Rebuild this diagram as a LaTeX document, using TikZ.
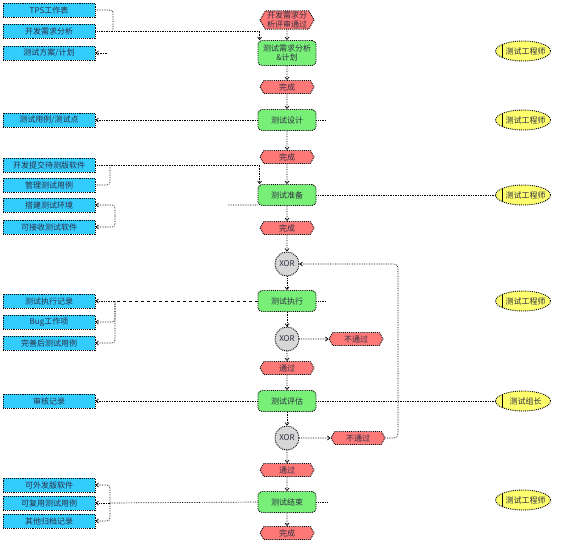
\documentclass[tikz,border=0pt]{standalone}
\usepackage{fontspec}
\setmainfont{Noto Sans CJK SC}
\usepackage{tikz}
\usetikzlibrary{positioning,shapes.symbols,shapes.geometric,arrows.meta}

\definecolor{docblue}{RGB}{51,204,255}
\definecolor{fngreen}{RGB}{120,240,120}
\definecolor{evred}{RGB}{255,120,120}
\definecolor{xorgray}{RGB}{215,215,215}
\definecolor{orgyellow}{RGB}{255,255,110}
\definecolor{inkgray}{RGB}{45,45,65}

\begin{document}
\begin{tikzpicture}[x=1pt,y=-1pt,on grid,
  font=\fontsize{8}{9}\selectfont,
  every node/.style={text=inkgray},
  doc/.style={draw,densely dotted,line width=0.9pt,fill=docblue,
    minimum width=92pt,minimum height=14pt,inner sep=0pt},
  fn/.style={draw,densely dotted,line width=0.9pt,fill=fngreen,rounded corners=4pt,
    minimum width=58pt,minimum height=21pt,inner sep=1pt,align=center},
  ev/.style={signal,signal to=west and east,signal pointer angle=120,draw,densely dotted,
    line width=0.9pt,fill=evred,minimum width=54pt,minimum height=13pt,inner sep=1pt,align=center},
  xor/.style={circle,draw,densely dotted,line width=0.9pt,fill=xorgray,minimum size=24pt,inner sep=0pt},
  org/.style={ellipse,draw,densely dotted,line width=0.9pt,fill=orgyellow,
    minimum width=55pt,minimum height=20pt,inner xsep=-6pt,inner ysep=0pt,
    path picture={\draw[solid,line width=1pt]
      ([xshift=7pt]path picture bounding box.north west) --
      ([xshift=7pt]path picture bounding box.south west);}},
  wire/.style={densely dotted,line width=0.7pt},
  link/.style={wire,-{Straight Barb[length=2.5pt,width=4pt]}}]
\useasboundingbox (0,0) rectangle (567,544);

% process chain
\node[ev] (ev0) at (287,20) {开发需求分\\析评审通过};
\node[fn,minimum height=25pt] (f1) [below=33pt of ev0] {测试需求分析\\\&计划};
\node[ev] (ev1) [below=34pt of f1] {完成};
\node[fn] (f2) [below=33pt of ev1] {测试设计};
\node[ev] (ev2) [below=37pt of f2] {完成};
\node[fn] (f3) [below=38pt of ev2] {测试准备};
\node[ev] (ev3) [below=33pt of f3] {完成};
\node[xor] (xor1) [below=36pt of ev3] {XOR};
\node[fn] (f4) [below=37pt of xor1] {测试执行};
\node[xor] (xor2) [below=38pt of f4] {XOR};
\node[ev] (fail1) [right=69pt of xor2] {不通过};
\node[ev] (pass1) [below=29pt of xor2] {通过};
\node[fn] (f5) [below=33pt of pass1] {测试评估};
\node[xor] (xor3) [below=37pt of f5] {XOR};
\node[ev] (fail2) [right=71pt of xor3] {不通过};
\node[ev] (pass2) [below=32pt of xor3] {通过};
\node[fn] (f6) [below=32pt of pass2] {测试结束};
\node[ev] (ev4) [below=31pt of f6] {完成};

% documents
\node[doc] (tps) at (49,10) {TPS工作表};
\node[doc] (req) at (49,31) {开发需求分析};
\node[doc] (plan) at (49,53) {测试方案/计划};
\node[doc] (case) at (49,120) {测试用例/测试点};
\node[doc] (sub) at (49,165) {开发提交待测版软件};
\node[doc] (mgmt) at (49,185) {管理测试用例};
\node[doc] (env) at (49,205) {搭建测试环境};
\node[doc] (recv) at (49,227) {可接收测试软件};
\node[doc] (log) at (49,301) {测试执行记录};
\node[doc] (bug) at (49,322) {Bug工作项};
\node[doc] (fixed) at (49,343) {完善后测试用例};
\node[doc] (audit) at (49,401) {审核记录};
\node[doc] (rel) at (49,485) {可外发版软件};
\node[doc] (reuse) at (49,503) {可复用测试用例};
\node[doc] (arch) at (49,521) {其他归档记录};

% roles
\node[org] (o1) at (523,51) {\hspace{5pt}测试工程师};
\node[org] (o2) at (523,120) {\hspace{5pt}测试工程师};
\node[org] (o3) at (523,195) {\hspace{5pt}测试工程师};
\node[org] (o4) at (523,301) {\hspace{5pt}测试工程师};
\node[org] (o5) at (523,401) {\hspace{5pt}测试组长};
\node[org] (o6) at (523,500) {\hspace{5pt}测试工程师};

% main flow
\draw[link] (ev0) -- (f1);
\draw[link] (f1) -- (ev1);
\draw[link] (ev1) -- (f2);
\draw[link] (f2) -- (ev2);
\draw[link] (ev2) -- (f3);
\draw[link] (f3) -- (ev3);
\draw[link] (ev3) -- (xor1);
\draw[link] (xor1) -- (f4);
\draw[link] (f4) -- (xor2);
\draw[link] (xor2) -- (fail1);
\draw[link] (xor2) -- (pass1);
\draw[link] (pass1) -- (f5);
\draw[link] (f5) -- (xor3);
\draw[link] (xor3) -- (fail2);
\draw[link] (xor3) -- (pass2);
\draw[link] (pass2) -- (f6);
\draw[link] (f6) -- (ev4);
\coordinate (k1) at (398,264);
\draw[link,rounded corners=4pt] (fail2.east) -| (k1) -- (xor1.east);

% inputs and outputs
\coordinate (j1) at (113,31);
\draw[wire,rounded corners=3pt] (tps.east) -| (j1);
\draw[link] (req.east) -| ([xshift=2pt]f1.north west);
\coordinate (p1) at (107,53);
\draw[link] (p1) -- (plan.east);
\draw[link] (f2.west) -- (case.east);
\coordinate (j3) at (110,165);
\draw[wire,rounded corners=3pt] (mgmt.east) -| (j3);
\draw[link] (sub.east) -| ([xshift=2pt]f3.north west);
\coordinate (s3) at (228,205);
\draw[wire] ([yshift=1pt]f3.south west) -- (s3);
\coordinate (j4) at (115,216);
\draw[link,rounded corners=3pt] (j4) |- (env.east);
\draw[link,rounded corners=3pt] (j4) |- (recv.east);
\coordinate (j5) at (115,301);
\draw[wire,dashed] (f4.west) -- (j5);
\draw[link] (j5) -- (log.east);
\draw[link,rounded corners=3pt] (j5) |- (bug.east);
\draw[link,rounded corners=3pt] (j5) |- (fixed.east);
\draw[link] (f5.west) -- (audit.east);
\coordinate (j6) at (110,503);
\draw[wire] (f6.west) -- (j6);
\draw[link,rounded corners=3pt] (j6) |- (rel.east);
\draw[link] (j6) -- (reuse.east);
\draw[link,rounded corners=3pt] (j6) |- (arch.east);

% roles
\coordinate (s2) at (326,120);
\draw[wire] (f2.east) -- (s2);
\draw[wire] (f3.east) -- (o3.west);
\coordinate (s4) at (326,301);
\draw[wire] (f4.east) -- (s4);
\draw[wire] (f5.east) -- (o5.west);
\coordinate (s6) at (327,502);
\draw[wire] (f6.east) -- (s6);
\end{tikzpicture}
\end{document}
